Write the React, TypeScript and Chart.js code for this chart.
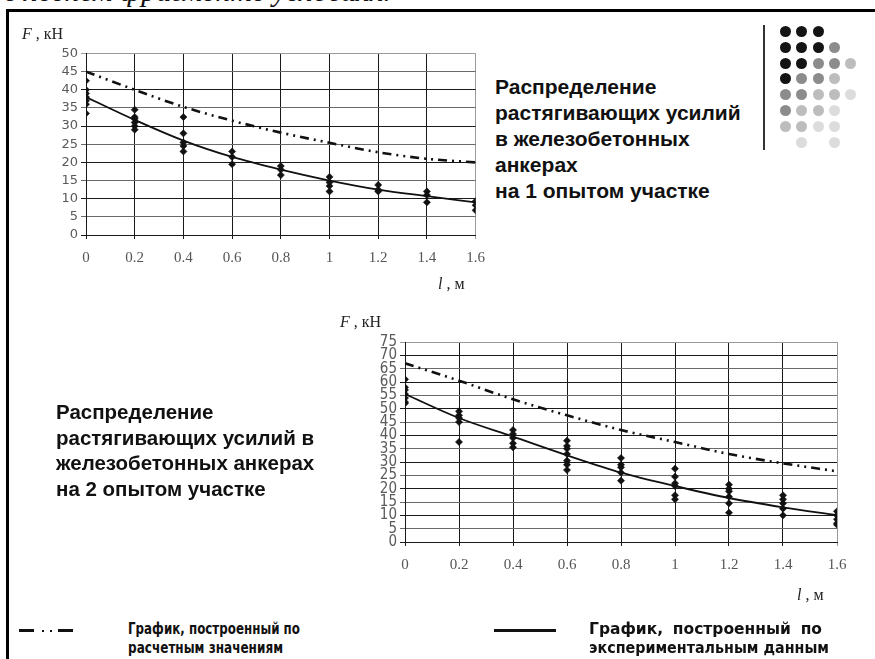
import React, { useEffect, useLayoutEffect, useRef } from "react";
import { Chart, registerables } from "chart.js";

Chart.register(...registerables);

// ---------- data ----------
const lengthTicks = [0, 0.2, 0.4, 0.6, 0.8, 1, 1.2, 1.4, 1.6];

// Site 1
const site1YTicks = [0, 5, 10, 15, 20, 25, 30, 35, 40, 45, 50];
const site1Calculated = [45, 40, 35.3, 31.5, 28.2, 25.4, 22.8, 21, 20];
const site1Experimental = [38, 31.7, 26, 21.5, 18, 15, 12.5, 10.7, 9];
const site1Measured = [
  [42.5, 40, 39, 38, 37, 36, 33.5],
  [34.5, 32.5, 32, 31, 30, 29],
  [32.5, 28, 25.5, 24.5, 23],
  [23, 21.5, 19.5],
  [19, 18, 16.5],
  [16, 14.5, 13.5, 12],
  [13.8, 12.5, 12],
  [12, 11, 9],
  [9.3, 8.2, 6.8],
];

// Site 2
const site2YTicks = [0, 5, 10, 15, 20, 25, 30, 35, 40, 45, 50, 55, 60, 65, 70, 75];
const site2Calculated = [67, 60.5, 53.5, 47.5, 42, 37.5, 33, 29.5, 26.5];
const site2Experimental = [55.5, 46.5, 39.5, 32.5, 26, 21, 16.5, 13, 10];
const site2Measured = [
  [61, 58, 57, 55.5, 54, 52.5, 52],
  [49, 47.5, 46.5, 45, 37.5],
  [42, 40.5, 39, 37, 35.5],
  [38, 36, 35, 33, 30.5, 29, 27],
  [31.5, 29, 28, 26, 23],
  [27.5, 24.5, 22, 21, 17.5, 16],
  [21.5, 20, 19, 17, 14.5, 11],
  [17.5, 16, 14.5, 12.5, 10],
  [11.5, 10, 8.5, 7, 6.5],
];

const titleSite1 = ["Распределение", "растягивающих усилий", "в железобетонных", "анкерах", "на 1 опытом участке"];
const titleSite2 = ["Распределение", "растягивающих усилий в", "железобетонных анкерах", "на 2 опытом участке"];
const legendCalc = ["График, построенный по", "расчетным значениям"];
const legendExpWords = ["График,", "построенный", "по"];
const legendExpLine2 = "экспериментальным данным";

// decorative dot pattern (shade index per cell, -1 = empty)
const dotRows = [
  [0, 0, 0, -1, -1],
  [0, 0, 0, 1, -1],
  [0, 0, 1, 1, 2],
  [0, 1, 1, 2, -1],
  [1, 1, 2, 2, 3],
  [1, 2, 2, 3, -1],
  [2, 2, 3, 3, -1],
  [-1, 3, -1, 3, -1],
];
const dotShades = ["#141414", "#8c8c8c", "#bdbdbd", "#dcdcdc"];

// ---------- chart ----------
type ChartSpec = {
  calc: number[];
  exp: number[];
  measured: number[][];
  yTicks: number[];
  yAxisWidth: number;
  xAxisHeight: number;
  padTop: number;
  padRight: number;
  yFont: any;
};

function buildConfig(s: ChartSpec): any {
  const yMax = s.yTicks[s.yTicks.length - 1];
  const points = s.measured.flatMap((vals, i) => vals.map((v) => ({ x: lengthTicks[i], y: v })));
  return {
    type: "scatter",
    data: {
      datasets: [
        {
          label: "calc",
          data: lengthTicks.map((x, i) => ({ x, y: s.calc[i] })),
          showLine: true,
          borderColor: "#111",
          borderWidth: 2.6,
          borderDash: [9, 5, 2, 5, 2, 5],
          pointRadius: 0,
          cubicInterpolationMode: "monotone",
          order: 2,
        },
        {
          label: "exp",
          data: lengthTicks.map((x, i) => ({ x, y: s.exp[i] })),
          showLine: true,
          borderColor: "#111",
          borderWidth: 1.8,
          pointRadius: 0,
          cubicInterpolationMode: "monotone",
          order: 1,
        },
        {
          label: "measured",
          data: points,
          showLine: false,
          pointStyle: "rectRot",
          pointRadius: 3.6,
          backgroundColor: "#111",
          borderColor: "#111",
          borderWidth: 0.5,
          order: 0,
        },
      ],
    },
    options: {
      animation: false,
      responsive: false,
      devicePixelRatio: 1,
      layout: { padding: { top: s.padTop, right: s.padRight, left: 0, bottom: 0 } },
      plugins: { legend: { display: false }, tooltip: { enabled: false }, title: { display: false } },
      scales: {
        x: {
          type: "linear",
          min: 0,
          max: 1.6,
          afterBuildTicks: (sc: any) => {
            sc.ticks = lengthTicks.map((v) => ({ value: v }));
          },
          afterFit: (sc: any) => {
            sc.height = s.xAxisHeight;
          },
          ticks: {
            autoSkip: false,
            maxRotation: 0,
            padding: 10,
            color: "#555",
            font: { family: "'Liberation Serif', 'Times New Roman', serif", size: 15 },
            callback: (v: number) => String(Number(v.toFixed(1))),
          },
          grid: {
            color: (c: any) => (c.tick && c.tick.value >= 1.6 ? "#9a9a9a" : "#1a1a1a"),
            lineWidth: 1,
            tickLength: 4,
          },
          border: { display: true, color: "#1a1a1a", width: 1 },
        },
        y: {
          type: "linear",
          min: 0,
          max: yMax,
          afterBuildTicks: (sc: any) => {
            sc.ticks = s.yTicks.map((v) => ({ value: v }));
          },
          afterFit: (sc: any) => {
            sc.width = s.yAxisWidth;
          },
          ticks: {
            autoSkip: false,
            padding: 3,
            color: "#5a5a5a",
            font: s.yFont,
          },
          grid: {
            color: (c: any) => {
              const v = c.tick ? c.tick.value : 0;
              if (v >= yMax) return "#9a9a9a";
              return v % 10 === 0 ? "#1a1a1a" : "#6a6a6a";
            },
            lineWidth: 1,
            tickLength: 5,
          },
          border: { display: true, color: "#1a1a1a", width: 1 },
        },
      },
    },
  };
}

function ChartCanvas(props: { spec: ChartSpec; left: number; top: number; width: number; height: number }) {
  const ref = useRef<HTMLCanvasElement | null>(null);
  useEffect(() => {
    if (!ref.current) return;
    const chart = new Chart(ref.current, buildConfig(props.spec));
    return () => chart.destroy();
  }, []);
  return (
    <canvas
      ref={ref}
      width={props.width}
      height={props.height}
      style={{ position: "absolute", left: props.left, top: props.top, width: props.width, height: props.height }}
    />
  );
}

const serif = "'Liberation Serif', 'Times New Roman', serif";
const boldSans = "'Liberation Sans', Arial, sans-serif";
const legendFont = "'DejaVu Sans', Verdana, sans-serif";

// a single line of text horizontally fitted to a target width
function FitLine(props: { text: string; width: number; style?: any }) {
  const ref = useRef<HTMLSpanElement | null>(null);
  useLayoutEffect(() => {
    const el = ref.current;
    if (!el) return;
    el.style.transform = "none";
    const w = el.getBoundingClientRect().width;
    if (w > 0) el.style.transform = `scaleX(${props.width / w})`;
  }, []);
  return (
    <div style={{ height: 19, whiteSpace: "nowrap" }}>
      <span ref={ref} style={{ display: "inline-block", transformOrigin: "0 0", ...(props.style || {}) }}>
        {props.text}
      </span>
    </div>
  );
}

function AxisLabel(props: { left: number; top: number; italic: string; rest: string }) {
  return (
    <div
      style={{
        position: "absolute",
        left: props.left,
        top: props.top,
        fontFamily: serif,
        fontSize: 16,
        lineHeight: "18px",
        color: "#222",
        whiteSpace: "nowrap",
      }}
    >
      <span style={{ fontStyle: "italic" }}>{props.italic}</span>
      {props.rest}
    </div>
  );
}

export default function App() {
  const spec1: ChartSpec = {
    calc: site1Calculated,
    exp: site1Experimental,
    measured: site1Measured,
    yTicks: site1YTicks,
    yAxisWidth: 86,
    xAxisHeight: 55,
    padTop: 33.5,
    padRight: 17,
    yFont: { family: "'DejaVu Sans', sans-serif", size: 13 },
  };
  const spec2: ChartSpec = {
    calc: site2Calculated,
    exp: site2Experimental,
    measured: site2Measured,
    yTicks: site2YTicks,
    yAxisWidth: 105,
    xAxisHeight: 48,
    padTop: 42,
    padRight: 23,
    yFont: { family: "'Liberation Sans Narrow', 'DejaVu Sans Condensed', 'Liberation Sans', sans-serif", size: 15, lineHeight: 1 },
  };

  const legendTextStyle = {
    fontFamily: legendFont,
    fontWeight: "bold",
    fontSize: 15.5,
    lineHeight: "19px",
    color: "#111",
  };

  return (
    <div
      style={{
        position: "fixed",
        left: 0,
        top: 0,
        width: 875,
        height: 659,
        background: "#fff",
        overflow: "hidden",
      }}
    >
      {/* cut-off heading at the very top */}
      <div
        style={{
          position: "absolute",
          left: 4,
          top: -26,
          fontFamily: serif,
          fontStyle: "italic",
          fontSize: 30,
          color: "#111",
          whiteSpace: "nowrap",
        }}
      >
        в лесном фрагменте условиях.
      </div>

      {/* frame */}
      <div style={{ position: "absolute", left: 6, top: 9, width: 869, height: 3, background: "#000" }} />
      <div style={{ position: "absolute", left: 6, top: 9, width: 3, height: 650, background: "#000" }} />

      {/* decoration */}
      <div style={{ position: "absolute", left: 763, top: 25, width: 1.5, height: 125, background: "#333" }} />
      {dotRows.map((row, r) =>
        row.map((shade, c) =>
          shade < 0 ? null : (
            <div
              key={r + "-" + c}
              style={{
                position: "absolute",
                left: 780 + c * 16.3,
                top: 26 + r * 15.8,
                width: 11,
                height: 11,
                borderRadius: "50%",
                background: dotShades[shade],
              }}
            />
          )
        )
      )}

      {/* charts */}
      <ChartCanvas spec={spec1} left={0} top={20} width={495} height={270} />
      <ChartCanvas spec={spec2} left={300} top={300} width={560} height={290} />

      {/* axis titles */}
      <AxisLabel left={22} top={25} italic="F" rest=" , кН" />
      <AxisLabel left={438} top={275} italic="l" rest=" , м" />
      <AxisLabel left={340} top={313} italic="F" rest=" , кН" />
      <AxisLabel left={797} top={586} italic="l" rest=" , м" />

      {/* chart titles */}
      <div
        style={{
          position: "absolute",
          left: 495,
          top: 74,
          fontFamily: boldSans,
          fontWeight: "bold",
          fontSize: 21,
          lineHeight: "26px",
          color: "#111",
          whiteSpace: "nowrap",
        }}
      >
        {titleSite1.map((t, i) => (
          <div key={i}>{t}</div>
        ))}
      </div>
      <div
        style={{
          position: "absolute",
          left: 56,
          top: 399,
          fontFamily: boldSans,
          fontWeight: "bold",
          fontSize: 20.5,
          lineHeight: "25.7px",
          color: "#111",
          whiteSpace: "nowrap",
        }}
      >
        {titleSite2.map((t, i) => (
          <div key={i}>{t}</div>
        ))}
      </div>

      {/* legend */}
      <div style={{ position: "absolute", left: 19, top: 629, width: 15, height: 3, background: "#111" }} />
      <div style={{ position: "absolute", left: 42, top: 630, width: 2, height: 2, background: "#111" }} />
      <div style={{ position: "absolute", left: 50, top: 630, width: 2, height: 2, background: "#111" }} />
      <div style={{ position: "absolute", left: 58, top: 629, width: 15, height: 3, background: "#111" }} />
      <div style={{ position: "absolute", left: 128, top: 620 }}>
        <FitLine text={legendCalc[0]} width={172} style={legendTextStyle} />
        <FitLine text={legendCalc[1]} width={155} style={legendTextStyle} />
      </div>

      <div style={{ position: "absolute", left: 494, top: 629, width: 62, height: 3, background: "#111" }} />
      <div style={{ position: "absolute", left: 589, top: 620, ...legendTextStyle, whiteSpace: "nowrap" }}>
        <div style={{ display: "flex", justifyContent: "space-between", width: 233, height: 19 }}>
          {legendExpWords.map((w, i) => (
            <span key={i}>{w}</span>
          ))}
        </div>
        <FitLine text={legendExpLine2} width={240} style={legendTextStyle} />
      </div>
    </div>
  );
}
